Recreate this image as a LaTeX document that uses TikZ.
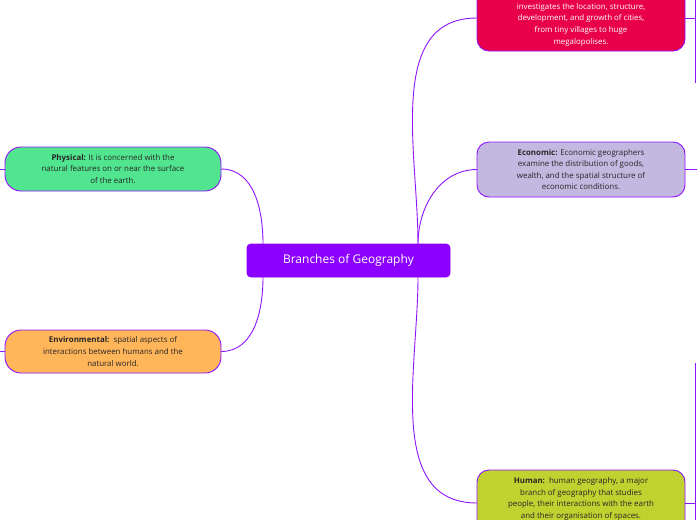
\documentclass[tikz,border=0pt]{standalone}
\usepackage{fontspec}
\setmainfont{Open Sans}
\begin{document}
\begin{tikzpicture}[x=1pt,y=-1pt]
  \definecolor{linkcol}{HTML}{9013FE}
  \tikzset{TopicStyle/.style = {
    shape         = rectangle,
    rounded corners = 12pt,
    draw          = linkcol,
    line width    = 0.9pt,
    text          = black!85,
    align         = center,
    font          = \fontsize{7.9}{11.6}\selectfont,
    inner sep     = 2pt,
    outer sep     = 0pt
    }
  }
  \tikzset{LinkStyle/.style = {
    draw          = linkcol,
    line width    = 0.9pt
    }
  }
  \definecolor{rootcol}{HTML}{8C00FF}
  \definecolor{urbancol}{HTML}{E8004C}
  \definecolor{econcol}{HTML}{C2B8E0}
  \definecolor{humancol}{HTML}{BFD230}
  \definecolor{physcol}{HTML}{52E58F}
  \definecolor{envcol}{HTML}{FFB55A}
  \useasboundingbox (0,0) rectangle (697,520);
  \clip (0,0) rectangle (697,520);

	\node[TopicStyle, fill=rootcol, text=white, draw=rootcol, rounded corners=4pt,
	  minimum width=203pt, minimum height=33pt, font=\fontsize{12}{14}\selectfont] (Root) at (348.5,260.5) {Branches of Geography};
	\node[TopicStyle, fill=urbancol, text=white, minimum width=208pt, text height=80pt,
	  anchor=south, inner ysep=5pt] (Urban) at (581,51) {investigates the location, structure,\\development, and growth of cities,\\from tiny villages to huge\\megalopolises.};
	\node[TopicStyle, fill=econcol, minimum width=208pt, minimum height=55pt] (Econ) at (581,169.5)
	  {\textbf{Economic:} Economic geographers\\examine the distribution of goods,\\wealth, and the spatial structure of\\economic conditions.};
	\node[TopicStyle, fill=humancol, minimum width=208pt, minimum height=70pt, anchor=north, text depth=14pt] (Human) at (581,470)
	  {\textbf{Human:}\, human geography, a major\\branch of geography that studies\\people, their interactions with the earth\\and their organisation of spaces.};
	\node[TopicStyle, fill=physcol, rounded corners=16pt, minimum width=216pt, minimum height=44pt] (Phys) at (113,169)
	  {\textbf{Physical:} It is concerned with the\\natural features on or near the surface\\of the earth.};
	\node[TopicStyle, fill=envcol, rounded corners=16pt, minimum width=216pt, minimum height=43pt] (Env) at (113,351.5)
	  {\textbf{Environmental:}\, spatial aspects of\\interactions between humans and the\\natural world.};
	\coordinate (RootNW) at (263,244);
	\coordinate (RootSW) at (263,277);
	\coordinate (RootNE) at (418,244);
	\coordinate (RootSE) at (418,277);
	\coordinate (PhysEnd) at (0,169);
	\coordinate (EnvEnd) at (0,351.5);
	\coordinate (UrbanEnd) at (695,18);
	\coordinate (EconEnd) at (697,169.5);
	\coordinate (HumanEnd) at (695,503);
	\draw[LinkStyle] (RootNW) to[out=90,in=0] (Phys.east);
	\draw[LinkStyle] (RootSW) to[out=-90,in=0] (Env.east);
	\draw[LinkStyle] (RootNE) to[out=90,in=180] (Urban.west |- UrbanEnd);
	\draw[LinkStyle] (RootNE) to[out=90,in=180] (Econ.west);
	\draw[LinkStyle] (RootSE) to[out=-90,in=180] (Human.west |- HumanEnd);
	\draw[LinkStyle] (Phys.west) -- (PhysEnd);
	\draw[LinkStyle] (Env.west) -- (EnvEnd);
	\draw[LinkStyle] (Urban.east |- UrbanEnd) -- (UrbanEnd);
	\draw[LinkStyle] (Econ.east) -- (EconEnd);
	\draw[LinkStyle] (Human.east |- HumanEnd) -- (HumanEnd);
	\draw[LinkStyle] (UrbanEnd) ++(0,-20) -- ++(0,85);
	\draw[LinkStyle] (HumanEnd) ++(0,-140) -- ++(0,160);
\end{tikzpicture}
\end{document}
